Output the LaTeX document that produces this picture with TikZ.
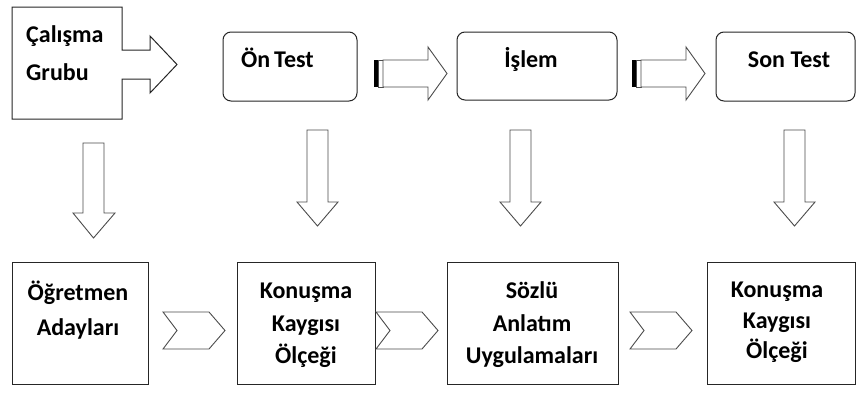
\documentclass[tikz,border=0pt]{standalone}
\usepackage{fontspec}
\setmainfont{Carlito}
\begin{document}
\begin{tikzpicture}[x=1pt,y=-1pt,
  box/.style={draw=black!85,line width=1pt,fill=white,inner sep=0pt},
  rbox/.style={box,rounded corners=8pt},
  blk/.style={draw=black!70,line width=0.9pt,fill=white,line join=miter},
  lbl/.style={font=\fontsize{24}{28}\selectfont\bfseries,inner sep=0pt,anchor=base},
  lblw/.style={lbl,anchor=base west}]
\useasboundingbox[fill=white] (0,0) rectangle (856,394);

% top-left callout
\draw[box,line join=miter] (12,7) -- (122,7) -- (122,50) -- (150,50) -- (150,36) -- (177,64.5)
  -- (150,93) -- (150,79) -- (122,79) -- (122,119) -- (12,119) -- cycle;
\node[lblw] (cg1) at (26,42) {Çalışma};
\node[lblw] (cg2) at (26,80) {Grubu};

% top rounded boxes
\node[rbox,minimum width=134pt,minimum height=69pt] (ontest) at (290,66.5) {};
\node[lblw] (ontestT) at (241,67) {Ön\hspace{-1.5pt} Test};
\node[rbox,minimum width=160pt,minimum height=68pt] (islem) at (537,66) {};
\node[lbl] (islemT) at (531,67) {İşlem};
\node[rbox,minimum width=139pt,minimum height=69pt] (sontest) at (785.5,66.5) {};
\node[lbl] (sontestT) at (789,67) {Son Test};

% striped arrows
\foreach \s in {0,258}{
  \begin{scope}[xshift=\s]
  \fill[black] (374,60) rectangle (378.5,87);
  \draw[black!70,line width=0.8pt,fill=white] (378.5,60) rectangle (383,87);
  \draw[blk] (383,60) -- (428,60) -- (428,47) -- (447,73.5) -- (428,100) -- (428,87) -- (383,87) -- cycle;
  \end{scope}}

% down arrows
\draw[blk] (83,143) -- (104,143) -- (104,213) -- (115,213) -- (93.5,238) -- (73,213) -- (83,213) -- cycle;
\foreach \x in {317.5,520.5,794.5}{
  \draw[blk] (\x-10.5,130) -- (\x+10.5,130) -- (\x+10.5,202) -- (\x+20.5,202) -- (\x,226)
    -- (\x-20.5,202) -- (\x-10.5,202) -- cycle;}

% bottom boxes
\node[box,minimum width=136pt,minimum height=122pt] (b1) at (80,323) {};
\node[lbl] (b1a) at (78,300) {Öğretmen};
\node[lbl] (b1b) at (78,335) {Adayları};
\node[box,minimum width=138pt,minimum height=122pt] (b2) at (306,323) {};
\node[lbl] (b2a) at (306,298) {Konuşma};
\node[lbl] (b2b) at (306,331) {Kaygısı};
\node[lbl] (b2c) at (306,363) {Ölçeği};
\node[box,minimum width=171pt,minimum height=122pt] (b3) at (532.5,323) {};
\node[lbl] (b3a) at (532,298) {Sözlü};
\node[lbl] (b3b) at (532,331) {Anlatım};
\node[lbl] (b3c) at (532,363) {Uygulamaları};
\node[box,minimum width=148pt,minimum height=122pt] (b4) at (781,323) {};
\node[lbl] (b4a) at (777,297) {Konuşma};
\node[lbl] (b4b) at (777,328) {Kaygısı};
\node[lbl] (b4c) at (777,358) {Ölçeği};

% chevrons
\foreach \s in {0,213,467}{
  \draw[blk,xshift=\s] (163,312) -- (209,312) -- (225,330.5) -- (209,349) -- (163,349) -- (177,330.5) -- cycle;}
\end{tikzpicture}
\end{document}
